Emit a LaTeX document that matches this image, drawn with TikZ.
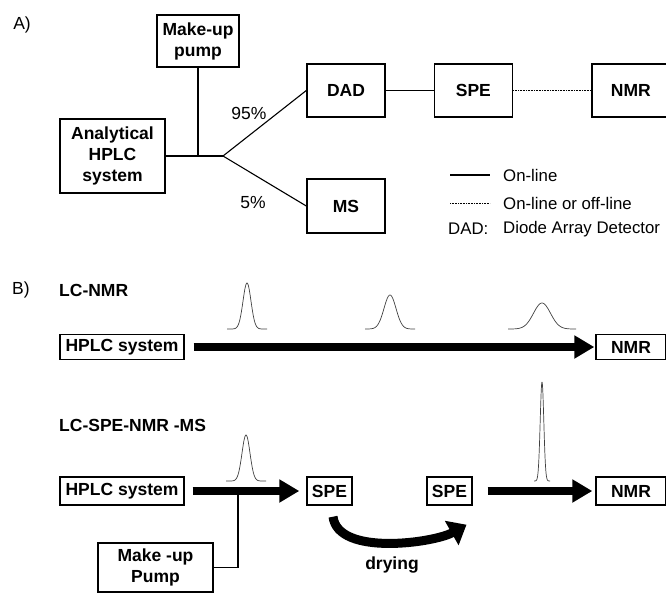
\documentclass[tikz,border=0pt]{standalone}
\usepackage{fontspec}
\setmainfont{Liberation Sans}
\usepackage{tikz}
\usetikzlibrary{arrows.meta, positioning}

% chromatographic peak: centre x, baseline y, height, sigma, half width
\newcommand{\drawpeak}[5]{%
  \draw[trace] plot[domain=-#5:#5, samples=90, smooth]
    ({#1+\x}, {#2-#3*exp(-0.5*(\x/#4)*(\x/#4))});}

\begin{document}
\begin{tikzpicture}[
  x=1pt, y=-1pt,
  unit/.style={
    rectangle, draw, line width=1.4pt, inner sep=0pt, align=center,
    font=\fontsize{17.5}{21}\selectfont\bfseries,
  },
  note/.style={inner sep=0pt, font=\fontsize{17.5}{21}\selectfont},
  keytext/.style={inner sep=0pt, anchor=west, font=\fontsize{16.8}{20}\selectfont},
  heading/.style={inner sep=0pt, anchor=west, font=\fontsize{17.5}{21}\selectfont\bfseries},
  link/.style={line width=1.1pt},
  offline/.style={line width=1pt, dash pattern=on 0.8pt off 0.8pt},
  flow/.style={line width=7.5pt, -{Triangle[length=20pt,width=22pt]}},
  dry/.style={line width=9pt, -{Triangle[length=17pt,width=27pt]}},
  trace/.style={line width=0.7pt, color=black!75},
]
\useasboundingbox (0,0) rectangle (666,592);

% A) split of the HPLC flow
\node[note] (partA) at (22,25) {A)};
\node[unit, minimum width=105pt, minimum height=74pt] (hplcA) at (112.5,156) {Analytical\\HPLC\\system};
\node[unit, minimum width=82pt, minimum height=52pt] (pumpA) at (198,41) {Make-up\\pump};
\coordinate (split) at (223,156);
\node[unit, minimum width=78pt, minimum height=53pt] (dad) at (346,90.5) {DAD};
\node[unit, minimum width=78pt, minimum height=53pt, right=48pt of dad] (speA) {SPE};
\node[unit, minimum width=78pt, minimum height=53pt, right=78pt of speA] (nmrA) {NMR};
\node[unit, minimum width=78pt, minimum height=54pt] (ms) at (346,206) {MS};
\draw[link] (hplcA.east) -- (split);
\draw[link] (pumpA.south) -- (pumpA.south |- split);
\draw[link] (split) -- (dad.west);
\draw[link] (split) -- (ms.west);
\draw[link] (dad) -- (speA);
\draw[offline] (speA) -- (nmrA);
\node[note] (splitdad) at (249,113) {95\%};
\node[note] (splitms) at (253,203) {5\%};

% legend
\coordinate (keyA) at (450,175);
\coordinate (keyB) at (490,175);
\coordinate (keyC) at (450,203);
\coordinate (keyD) at (490,203);
\draw[link] (keyA) -- (keyB);
\draw[offline] (keyC) -- (keyD);
\node[keytext] (keyonline) at (503,175) {On-line};
\node[keytext] (keyoffline) at (503,203) {On-line or off-line};
\node[keytext] (keydad) at (448,229) {DAD:};
\node[keytext] (keydadtext) at (503,229) {Diode Array Detector};

% B) LC-NMR
\node[note] (partB) at (21,290) {B)};
\node[heading] (titlelcnmr) at (59,290) {LC-NMR};
\node[unit, minimum width=124pt, minimum height=25pt] (hplcB1) at (122,347) {HPLC system};
\node[unit, minimum width=70pt, minimum height=25pt] (nmrB1) at (631,347) {NMR};
\draw[flow] ([xshift=9pt]hplcB1.east) -- ([xshift=-1pt]nmrB1.west);
\drawpeak{247}{329}{46}{4}{20}
\drawpeak{390}{329}{34}{6}{25}
\drawpeak{542}{329}{26}{8.5}{34}

% LC-SPE-NMR-MS
\node[heading] (titlespe) at (59,425) {LC-SPE-NMR -MS};
\node[unit, minimum width=124pt, minimum height=28pt] (hplcB2) at (122,491) {HPLC system};
\node[unit, minimum width=45pt, minimum height=28pt] (speB1) at (329.5,491) {SPE};
\node[unit, minimum width=45pt, minimum height=28pt] (speB2) at (449.5,491) {SPE};
\node[unit, minimum width=70pt, minimum height=28pt] (nmrB2) at (631,491) {NMR};
\node[unit, minimum width=115pt, minimum height=49pt] (pumpB) at (155.5,567.5) {Make -up\\Pump};
\coordinate (merge) at (238,493);
\draw[flow] ([xshift=8pt]hplcB2.east) -- ([xshift=-7pt]speB1.west);
\draw[flow] ([xshift=15pt]speB2.east) -- ([xshift=-3pt]nmrB2.west);
\draw[link] (pumpB.east) -| (merge);
\drawpeak{246}{481}{46}{4}{20}
\drawpeak{542}{481}{99}{1.8}{8}
\draw[dry] ([xshift=3.5pt, yshift=-11pt]speB1.south) .. controls +(5,40) and +(-32,18) .. ([xshift=17pt, yshift=-19pt]speB2.south);
\node[heading, anchor=center] (drying) at (392,565) {drying};
\end{tikzpicture}
\end{document}
